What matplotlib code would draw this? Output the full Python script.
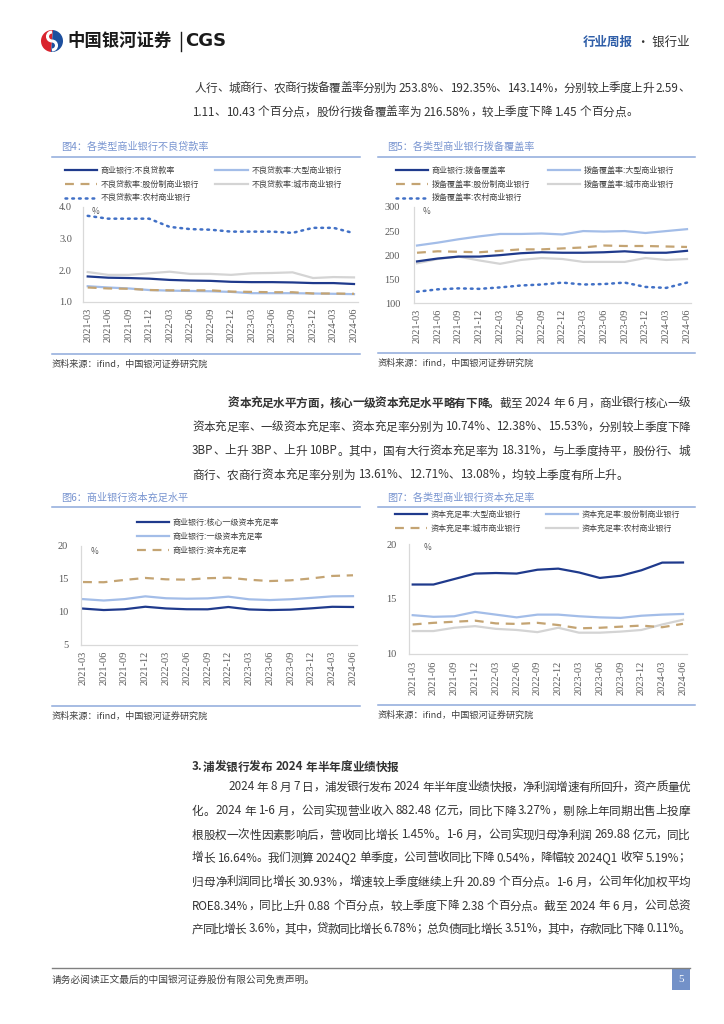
import re
import matplotlib
matplotlib.use('Agg')
import matplotlib.pyplot as plt
from matplotlib.patches import Rectangle, Wedge, Arc

plt.rcParams['font.family'] = ['Noto Sans CJK SC', 'DejaVu Sans']

W, H = 724, 1024

quarters = ['2021-03', '2021-06', '2021-09', '2021-12', '2022-03', '2022-06', '2022-09',
            '2022-12', '2023-03', '2023-06', '2023-09', '2023-12', '2024-03', '2024-06']

# 图4 不良贷款率 (%)
npl_all = [1.80, 1.76, 1.75, 1.73, 1.69, 1.67, 1.66, 1.63, 1.62, 1.62, 1.61, 1.59, 1.59, 1.56]
npl_large = [1.49, 1.45, 1.42, 1.37, 1.35, 1.34, 1.33, 1.31, 1.27, 1.27, 1.27, 1.26, 1.25, 1.24]
npl_joint = [1.45, 1.42, 1.41, 1.37, 1.36, 1.36, 1.36, 1.32, 1.31, 1.30, 1.30, 1.26, 1.26, 1.25]
npl_city = [1.94, 1.85, 1.85, 1.90, 1.95, 1.88, 1.88, 1.85, 1.90, 1.91, 1.93, 1.75, 1.78, 1.77]
npl_rural = [3.72, 3.63, 3.63, 3.63, 3.37, 3.30, 3.28, 3.22, 3.22, 3.22, 3.18, 3.34, 3.34, 3.17]

# 图5 拨备覆盖率 (%)
cov_all = [187, 193, 197, 197, 200, 204, 206, 205, 205, 206, 208, 205, 205, 209]
cov_large = [220, 226, 233, 239, 244, 244, 245, 243, 250, 249, 250, 246, 250, 254]
cov_joint = [205, 208, 207, 206, 209, 212, 212, 214, 216, 220, 219, 219, 218, 217]
cov_city = [183, 192, 197, 189, 182, 190, 194, 192, 186, 186, 186, 194, 190, 192]
cov_rural = [124, 129, 131, 130, 133, 137, 139, 143, 139, 140, 143, 134, 132, 143]

# 图6 商业银行资本充足水平 (%)
car_core = [10.50, 10.28, 10.40, 10.78, 10.52, 10.40, 10.39, 10.74, 10.37, 10.28, 10.34, 10.54, 10.77, 10.74]
car_tier1 = [11.93, 11.72, 11.93, 12.35, 12.06, 11.99, 12.04, 12.30, 11.90, 11.79, 11.91, 12.12, 12.35, 12.38]
car_total = [14.51, 14.48, 14.83, 15.13, 14.92, 14.87, 15.09, 15.17, 14.86, 14.66, 14.77, 15.06, 15.43, 15.53]

# 图7 各类型商业银行资本充足率 (%)
car_large = [16.3, 16.3, 16.8, 17.3, 17.35, 17.3, 17.65, 17.75, 17.4, 16.9, 17.1, 17.6, 18.3, 18.31]
car_joint = [13.5, 13.35, 13.4, 13.8, 13.55, 13.3, 13.55, 13.55, 13.4, 13.3, 13.25, 13.45, 13.55, 13.61]
car_city = [12.65, 12.8, 12.9, 13.0, 12.75, 12.7, 12.8, 12.6, 12.3, 12.35, 12.45, 12.55, 12.4, 12.71]
car_rural = [12.05, 12.05, 12.35, 12.5, 12.25, 12.15, 11.95, 12.35, 11.9, 11.9, 12.0, 12.15, 12.65, 13.08]

NAVY = '#1f3a8c'
LIGHT = '#a3bde8'
TAN = '#c4a473'
GREY = '#d4d4d4'
DOT = '#4170c6'
TITLE_C = '#7894d0'
RULE_C = '#8eaadb'
BODY_C = '#333333'

fig = plt.figure(figsize=(W / 100, H / 100), dpi=100)
fig.patch.set_facecolor('white')
page = fig.add_axes([0, 0, 1, 1])
page.set_xlim(0, W)
page.set_ylim(H, 0)
page.axis('off')
renderer = fig.canvas.get_renderer()

##################################################################
# header / footer
##################################################################
page.add_patch(Wedge((52, 41), 11, 95, 275, fc='#d9232d', ec='none'))
page.add_patch(Wedge((52, 41), 11, -85, 95, fc='#1d4f9e', ec='none'))
page.add_patch(Arc((52, 36.5), 9, 9, theta1=90, theta2=270, color='white', lw=2.2))
page.add_patch(Arc((52, 45.5), 9, 9, theta1=-90, theta2=90, color='white', lw=2.2))
page.text(67, 41, '中国银河证券', fontsize=12.5, fontweight='bold', color='#1a1a1a', va='center')
page.plot([180.5, 180.5], [32, 51], color='#1a1a1a', lw=1)
page.text(185, 41, 'CGS', fontsize=13, fontweight='bold', color='#1a1a1a', va='center',
          family=['DejaVu Sans'])
page.text(583, 42, '行业周报', fontsize=9, fontweight='bold', color='#2f5ea8', va='center')
page.text(690, 42, '· 银行业', fontsize=9, color='#333333', va='center', ha='right')

page.plot([52, 690], [968, 968], color='#808080', lw=1)
page.text(52, 980, '请务必阅读正文最后的中国银河证券股份有限公司免责声明。', fontsize=7,
          color='#404040', va='center')
page.add_patch(Rectangle((672, 968), 18, 22, fc='#7391c8', ec='none'))
page.text(681, 979, '5', fontsize=8, color='white', ha='center', va='center',
          family=['Liberation Serif'])


##################################################################
# justified body text
##################################################################
def is_ascii(t):
    return bool(re.match(r'[A-Za-z0-9.%\-]', t))


def body_line(x0, x1, y, parts, justify=True, size=8.4):
    toks = []
    for txt, wt in parts:
        for t in re.findall(r'[A-Za-z0-9.%\-]+|\S', txt):
            toks.append((t, wt))
    widths = []
    for t, wt in toks:
        a = page.text(0, 0, t, fontsize=size, fontweight=wt)
        widths.append(a.get_window_extent(renderer).width)
        a.remove()
    gaps = []
    for i in range(len(toks) - 1):
        a, b = toks[i][0], toks[i + 1][0]
        g = 0.0
        if is_ascii(a) != is_ascii(b) and not a.endswith('.'):
            if not (a in '、，。；：' or b in '、，。；：'):
                g = 2.8
        gaps.append(g)
    if justify and len(toks) > 1:
        extra = (x1 - x0 - sum(widths) - sum(gaps)) / (len(toks) - 1)
        gaps = [g + extra for g in gaps]
    x = x0
    for i, (t, wt) in enumerate(toks):
        page.text(x, y, t, fontsize=size, fontweight=wt, color=BODY_C, va='center')
        x += widths[i] + (gaps[i] if i < len(gaps) else 0)


N = 'normal'
B = 'bold'
body_line(195, 690, 88, [('人行、城商行、农商行拨备覆盖率分别为253.8%、192.35%、143.14%，分别较上季度上升2.59、', N)])
body_line(192, 690, 112, [('1.11、10.43个百分点，股份行拨备覆盖率为216.58%，较上季度下降1.45个百分点。', N)], justify=False)

body_line(228, 690, 403, [('资本充足水平方面，核心一级资本充足水平略有下降。', B), ('截至2024年6月，商业银行核心一级', N)])
body_line(192, 690, 427, [('资本充足率、一级资本充足率、资本充足率分别为10.74%、12.38%、15.53%，分别较上季度下降', N)])
body_line(192, 690, 451, [('3BP、上升3BP、上升10BP。其中，国有大行资本充足率为18.31%，与上季度持平，股份行、城', N)])
body_line(192, 690, 475, [('商行、农商行资本充足率分别为13.61%、12.71%、13.08%，均较上季度有所上升。', N)], justify=False)

body_line(192, 690, 767, [('3.浦发银行发布2024年半年度业绩快报', B)], justify=False)
body_line(228, 690, 787, [('2024年8月7日，浦发银行发布2024年半年度业绩快报，净利润增速有所回升，资产质量优', N)])
body_line(192, 690, 811, [('化。2024年1-6月，公司实现营业收入882.48亿元，同比下降3.27%，剔除上年同期出售上投摩', N)])
body_line(192, 690, 835, [('根股权一次性因素影响后，营收同比增长1.45%。1-6月，公司实现归母净利润269.88亿元，同比', N)])
body_line(192, 690, 858, [('增长16.64%。我们测算2024Q2单季度，公司营收同比下降0.54%，降幅较2024Q1收窄5.19%；', N)])
body_line(192, 690, 882, [('归母净利润同比增长30.93%，增速较上季度继续上升20.89个百分点。1-6月，公司年化加权平均', N)])
body_line(192, 690, 906, [('ROE8.34%，同比上升0.88个百分点，较上季度下降2.38个百分点。截至2024年6月，公司总资', N)])
body_line(192, 690, 929, [('产同比增长3.6%，其中，贷款同比增长6.78%；总负债同比增长3.51%，其中，存款同比下降0.11%。', N)])


##################################################################
# chart frames
##################################################################
def frame(x0, x1, title, y_title, y_rule, y_src_rule):
    page.text(x0 + 9, y_title, title, fontsize=7.3, color=TITLE_C, va='center')
    page.plot([x0, x1], [y_rule, y_rule], color=RULE_C, lw=1.1)
    page.plot([x0, x1], [y_src_rule, y_src_rule], color=RULE_C, lw=1.1)
    page.text(x0, y_src_rule + 10, '资料来源：ifind，中国银河证券研究院', fontsize=6.6,
              color='#404040', va='center')


def chart(left, right, top, bottom, p0, p13, ylim, yticks, fmt, xpad, ypad):
    ax = fig.add_axes([left / W, 1 - bottom / H, (right - left) / W, (bottom - top) / H])
    step = (p13 - p0) / 13
    ax.set_xlim((left - p0) / step, (right - p0) / step)
    ax.set_ylim(*ylim)
    ax.set_yticks(yticks)
    ax.set_yticklabels([fmt.format(v) for v in yticks], family=['Liberation Serif'])
    ax.set_xticks(range(len(quarters)))
    ax.set_xticklabels(quarters, rotation=90, family=['Liberation Serif'])
    for s in ['top', 'right']:
        ax.spines[s].set_visible(False)
    for s in ['left', 'bottom']:
        ax.spines[s].set_color('#d9d9d9')
        ax.spines[s].set_linewidth(0.9)
    ax.tick_params(axis='both', length=0, labelsize=7.5, labelcolor='#595959')
    ax.tick_params(axis='x', pad=xpad)
    ax.tick_params(axis='y', pad=ypad)
    ax.patch.set_alpha(0)
    return ax


LW = 1.6
dash = (0, (4, 3))
dots = (0, (0.7, 2.0))
leg_kw = dict(loc='upper left', bbox_transform=page.transData, frameon=False,
              fontsize=5.8, handlelength=4, handletextpad=0.45, labelspacing=0.58,
              borderpad=0, borderaxespad=0, labelcolor='#404040')

# ---- 图4
frame(52, 360, '图4：各类型商业银行不良贷款率', 147, 157, 354)
ax4 = chart(83, 358, 207, 301.7, 87.7, 354, (1, 4), [1, 2, 3, 4], '{:.1f}', 4, 8)
x = range(len(quarters))
l_city, = ax4.plot(x, npl_city, color=GREY, lw=LW, label='不良贷款率:城市商业银行')
l_large, = ax4.plot(x, npl_large, color=LIGHT, lw=LW, label='不良贷款率:大型商业银行')
l_joint, = ax4.plot(x, npl_joint, color=TAN, lw=LW, ls=dash, label='不良贷款率:股份制商业银行')
l_all, = ax4.plot(x, npl_all, color=NAVY, lw=LW, label='商业银行:不良贷款率')
l_rural, = ax4.plot(x, npl_rural, color=DOT, lw=1.8, ls=dots, dash_capstyle='round',
                    label='不良贷款率:农村商业银行')
page.text(92, 211, '%', fontsize=6, color='#595959', va='center')
ax4.legend(handles=[l_all, l_joint, l_rural, l_large, l_city], ncol=2,
           bbox_to_anchor=(65, 166), columnspacing=2.0, **leg_kw)

# ---- 图5
frame(378, 695, '图5：各类型商业银行拨备覆盖率', 147, 157, 353)
ax5 = chart(414, 691, 207, 303.3, 417, 687, (100, 300), [100, 150, 200, 250, 300], '{:.0f}', 4, 10)
c_city, = ax5.plot(x, cov_city, color=GREY, lw=LW, label='拨备覆盖率:城市商业银行')
c_large, = ax5.plot(x, cov_large, color=LIGHT, lw=LW, label='拨备覆盖率:大型商业银行')
c_joint, = ax5.plot(x, cov_joint, color=TAN, lw=LW, ls=dash, label='拨备覆盖率:股份制商业银行')
c_all, = ax5.plot(x, cov_all, color=NAVY, lw=LW, label='商业银行:拨备覆盖率')
c_rural, = ax5.plot(x, cov_rural, color=DOT, lw=1.8, ls=dots, dash_capstyle='round',
                    label='拨备覆盖率:农村商业银行')
page.text(423, 212, '%', fontsize=6, color='#595959', va='center')
ax5.legend(handles=[c_all, c_joint, c_rural, c_large, c_city], ncol=2,
           bbox_to_anchor=(396, 166), columnspacing=2.2, **leg_kw)

# ---- 图6
frame(52, 360, '图6：商业银行资本充足水平', 498, 507, 706)
ax6 = chart(80.7, 357, 545.7, 645, 83, 353, (5, 20), [5, 10, 15, 20], '{:.0f}', 4, 9)
k_tier1, = ax6.plot(x, car_tier1, color=LIGHT, lw=LW, label='商业银行:一级资本充足率')
k_total, = ax6.plot(x, car_total, color=TAN, lw=LW, ls=dash, label='商业银行:资本充足率')
k_core, = ax6.plot(x, car_core, color=NAVY, lw=LW, label='商业银行:核心一级资本充足率')
page.text(91, 551, '%', fontsize=6, color='#595959', va='center')
ax6.legend(handles=[k_core, k_tier1, k_total], ncol=1,
           bbox_to_anchor=(137, 518), **leg_kw)

# ---- 图7
frame(378, 695, '图7：各类型商业银行资本充足率', 498, 507, 705)
ax7 = chart(409, 687, 544, 653.5, 412.7, 683, (10, 20), [10, 15, 20], '{:.0f}', 5, 9)
r_rural, = ax7.plot(x, car_rural, color=GREY, lw=LW, label='资本充足率:农村商业银行')
r_city, = ax7.plot(x, car_city, color=TAN, lw=LW, ls=dash, label='资本充足率:城市商业银行')
r_joint, = ax7.plot(x, car_joint, color=LIGHT, lw=LW, label='资本充足率:股份制商业银行')
r_large, = ax7.plot(x, car_large, color=NAVY, lw=LW, label='资本充足率:大型商业银行')
page.text(424, 547, '%', fontsize=6, color='#595959', va='center')
ax7.legend(handles=[r_large, r_city, r_joint, r_rural], ncol=2,
           bbox_to_anchor=(395, 510), columnspacing=3.1, **leg_kw)

fig.savefig('out.png', dpi=100)
